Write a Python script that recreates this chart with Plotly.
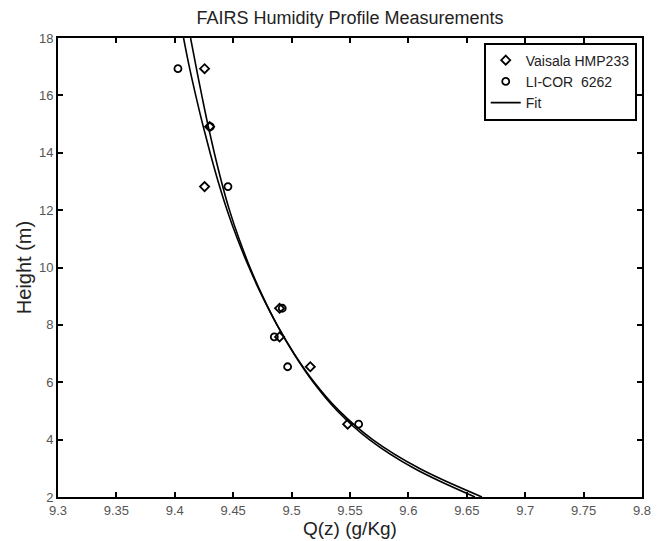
import plotly.graph_objects as go

# Measurements
vaisala_height = [4.54, 6.54, 7.58, 8.58, 12.82, 14.91, 16.93]
vaisala_q = [9.548, 9.516, 9.4897, 9.4897, 9.4255, 9.4298, 9.4255]

licor_height = [4.54, 6.54, 7.58, 8.58, 12.82, 14.91, 16.93]
licor_q = [9.5574, 9.4966, 9.4852, 9.4920, 9.4455, 9.4304, 9.4027]

# Fit curves
fit_height = [2, 3, 4, 5, 6, 7, 8, 9, 10, 11, 12, 13, 14, 15, 16, 17, 18]
fit1_q = [9.663, 9.6092, 9.5694, 9.5408, 9.5194, 9.5022, 9.4875, 9.4748, 9.4636,
          9.4536, 9.4448, 9.4371, 9.4302, 9.4238, 9.4179, 9.4124, 9.4075]
fit2_q = [9.657, 9.6048, 9.5666, 9.5392, 9.5186, 9.5018, 9.4875, 9.4752, 9.4644,
          9.4550, 9.4468, 9.4399, 9.4338, 9.4282, 9.4231, 9.4182, 9.4135]

x_ticks = [9.3, 9.35, 9.4, 9.45, 9.5, 9.55, 9.6, 9.65, 9.7, 9.75, 9.8]
x_labels = ["9.3", "9.35", "9.4", "9.45", "9.5", "9.55", "9.6", "9.65", "9.7", "9.75", "9.8"]
y_ticks = [2, 4, 6, 8, 10, 12, 14, 16, 18]

FONT = "Liberation Sans, Arial, sans-serif"

fig = go.Figure()
fig.add_trace(go.Scatter(
    x=vaisala_q, y=vaisala_height, mode="markers", name="Vaisala HMP233",
    marker=dict(symbol="diamond-open", size=7, color="black", line=dict(width=1.8, color="black")),
))
fig.add_trace(go.Scatter(
    x=licor_q, y=licor_height, mode="markers", name="LI-COR  6262",
    marker=dict(symbol="circle-open", size=7, color="black", line=dict(width=1.8, color="black")),
))
fig.add_trace(go.Scatter(
    x=fit1_q, y=fit_height, mode="lines", name="Fit",
    line=dict(color="black", width=1.6, shape="spline", smoothing=1),
))
fig.add_trace(go.Scatter(
    x=fit2_q, y=fit_height, mode="lines", name="Fit", showlegend=False,
    line=dict(color="black", width=1.6, shape="spline", smoothing=1),
))

# the page body has an 8px margin, so the figure is 8px smaller than the window
fig.update_layout(
    width=657, height=533,
    margin=dict(l=50, r=23, t=30, b=44),
    paper_bgcolor="white", plot_bgcolor="white",
    font=dict(family=FONT, color="#333333", size=13),
    title=dict(text="FAIRS Humidity Profile Measurements", x=0.5205, xanchor="center",
               y=0.982, yanchor="middle", font=dict(size=18, color="#222222", family=FONT)),
    showlegend=True,
    legend=dict(x=0.729, y=0.990, xanchor="left", yanchor="top",
                bgcolor="white", bordercolor="black", borderwidth=2,
                font=dict(size=14, color="#222222", family=FONT),
                tracegroupgap=0, itemwidth=30),
    annotations=[dict(
        text="Q(z) (g/Kg)", xref="paper", yref="paper", x=0.5, y=-0.068,
        xanchor="center", yanchor="middle", showarrow=False,
        font=dict(size=19, color="#222222", family=FONT),
    )],
)
fig.update_xaxes(
    range=[9.3, 9.8], tickvals=x_ticks, ticktext=x_labels, automargin=False,
    showline=True, linecolor="black", linewidth=2, mirror="ticks",
    ticks="inside", ticklen=5, tickwidth=1.5, tickcolor="black",
    showgrid=False, zeroline=False,
    tickfont=dict(size=13, color="#555555"),
)
fig.update_yaxes(
    range=[2, 18], tickvals=y_ticks, automargin=False,
    showline=True, linecolor="black", linewidth=2, mirror="ticks",
    ticks="inside", ticklen=5, tickwidth=1.5, tickcolor="black",
    showgrid=False, zeroline=False,
    tickfont=dict(size=13, color="#555555"),
    title=dict(text="Height (m)", font=dict(size=20, color="#222222"), standoff=2),
)

fig.write_html("out.html")
